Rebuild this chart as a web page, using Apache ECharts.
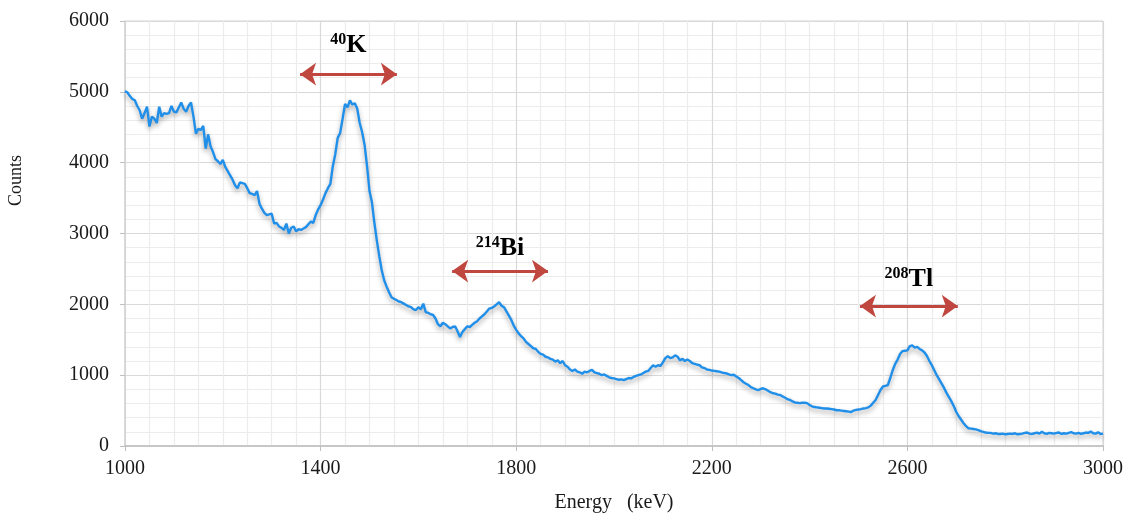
<!DOCTYPE html>
<html>
<head>
<meta charset="utf-8">
<script src="https://cdn.jsdelivr.net/npm/echarts@6/dist/echarts.min.js"></script>
<style>html,body{margin:0;padding:0;background:#fff}#c{width:1131px;height:514px}</style>
</head>
<body>
<div id="c"></div>
<script>
// Energy sampling of the spectrum (keV)
const energyStart = 1000;
const energyStep = 5;
// Counts, 5 keV apart, 1000 .. 3000 keV
const counts = [
  5010,4990,4940,4900,4880,4800,4740,4620,4700,4790,4510,4650,4620,4560,4790,4650,4700,4690,4700,4800,
  4720,4710,4780,4850,4760,4720,4800,4850,4650,4410,4480,4460,4520,4200,4400,4230,4150,4050,4020,3980,
  4040,3940,3880,3820,3760,3680,3640,3720,3710,3700,3640,3570,3560,3540,3600,3420,3350,3290,3260,3270,
  3280,3140,3150,3100,3080,3050,3140,3000,3080,3100,3030,3060,3050,3070,3090,3130,3170,3150,3260,3340,
  3400,3480,3570,3640,3700,3950,4120,4350,4420,4620,4830,4780,4880,4820,4840,4760,4560,4430,4250,3950,
  3600,3440,3150,2900,2680,2480,2340,2250,2170,2100,2080,2060,2040,2030,2010,1990,1970,1960,1930,1920,
  1960,1930,2010,1890,1880,1860,1850,1800,1720,1690,1740,1720,1690,1660,1680,1690,1620,1540,1610,1650,
  1690,1680,1710,1740,1760,1800,1830,1860,1900,1940,1950,1970,2000,2030,1980,1960,1900,1840,1780,1700,
  1640,1590,1550,1520,1470,1440,1410,1380,1370,1330,1300,1290,1260,1250,1230,1220,1190,1210,1170,1200,
  1140,1120,1080,1060,1080,1050,1040,1020,1050,1040,1060,1075,1040,1030,1020,1000,1010,990,970,960,
  955,945,935,940,930,945,960,955,975,990,1000,1010,1030,1050,1060,1100,1140,1120,1140,1130,
  1180,1240,1270,1240,1250,1280,1260,1210,1230,1200,1220,1200,1170,1160,1150,1140,1110,1100,1080,1075,
  1065,1060,1055,1050,1040,1030,1025,1010,1000,1005,980,960,930,900,880,860,830,815,800,790,
  805,815,800,780,760,745,740,725,720,700,680,660,650,630,615,610,605,610,610,605,
  580,560,550,545,540,535,530,530,525,520,515,505,505,500,495,490,485,480,500,510,
  515,520,530,535,545,570,610,650,720,790,840,850,860,960,1070,1160,1220,1300,1340,1345,
  1350,1410,1420,1390,1400,1370,1350,1320,1270,1200,1140,1070,1000,940,880,820,750,690,630,560,
  480,420,370,320,280,250,245,240,235,225,210,200,190,185,185,175,180,170,170,175,
  165,170,175,170,180,165,170,175,185,190,175,170,180,190,175,200,180,170,185,180,
  175,185,190,170,180,175,185,195,180,175,185,170,180,190,185,205,180,175,195,170,
  175
];
// Annotations: isotope label, arrow start/end energy, arrow height (counts)
const isoMass = ['40', '214', '208'];
const isoName = ['K', 'Bi', 'Tl'];
const arrowFrom = [1358, 1669, 2503];
const arrowTo = [1556, 1865, 2703];
const arrowY = [5250, 2470, 1975];
// Axis ticks
const xTicks = [1000, 1400, 1800, 2200, 2600, 3000];
const yTicks = [0, 1000, 2000, 3000, 4000, 5000, 6000];

const seriesData = counts.map((c, i) => [energyStart + i * energyStep, c]);
const font = '"Liberation Serif", "DejaVu Serif", serif';
const labelGap = [15, 9, 13];

const markData = isoName.map((n, i) => [
  { coord: [arrowFrom[i], arrowY[i]], name: n,
    label: { distance: labelGap[i], formatter: '{s|' + isoMass[i] + '}{b|' + n + '}' } },
  { coord: [arrowTo[i], arrowY[i]] }
]);

const chart = echarts.init(document.getElementById('c'), null, { renderer: 'canvas' });
chart.setOption({
  animation: false,
  backgroundColor: '#ffffff',
  grid: { left: 125, right: 28, top: 21, bottom: 68, show: true, borderColor: '#d4d4d4', borderWidth: 1,
          containLabel: false, outerBoundsMode: 'none' },
  xAxis: {
    type: 'value', min: xTicks[0], max: xTicks[xTicks.length - 1], interval: 400,
    name: 'Energy   (keV)', nameLocation: 'middle', nameGap: 47,
    nameTextStyle: { fontFamily: font, fontSize: 20, color: '#1a1a1a' },
    axisLine: { show: true, lineStyle: { color: '#bfbfbf', width: 1.5 } },
    axisTick: { show: true, length: 5, lineStyle: { color: '#bfbfbf' } },
    axisLabel: { fontFamily: font, fontSize: 20, color: '#1a1a1a', margin: 13, formatter: v => String(v) },
    splitLine: { show: true, lineStyle: { color: '#d9d9d9', width: 1.2 } },
    minorTick: { show: false, splitNumber: 8 },
    minorSplitLine: { show: true, lineStyle: { color: '#ececec', width: 1.2 } }
  },
  yAxis: {
    type: 'value', min: yTicks[0], max: yTicks[yTicks.length - 1], interval: 1000,
    name: 'Counts', nameLocation: 'middle', nameGap: 100, nameRotate: 90,
    nameTextStyle: { fontFamily: font, fontSize: 18, color: '#1a1a1a', padding: [0, 0, 0, 106] },
    axisLine: { show: true, lineStyle: { color: '#d4d4d4', width: 1.5 } },
    axisTick: { show: true, length: 5, lineStyle: { color: '#bfbfbf' } },
    axisLabel: { fontFamily: font, fontSize: 20, color: '#1a1a1a', margin: 16, formatter: v => String(v) },
    splitLine: { show: true, lineStyle: { color: '#d9d9d9', width: 1.2 } },
    minorTick: { show: false, splitNumber: 5 },
    minorSplitLine: { show: true, lineStyle: { color: '#ececec', width: 1.2 } }
  },
  series: [{
    type: 'line',
    data: seriesData,
    showSymbol: false,
    symbol: 'none',
    lineStyle: { color: '#1f8fea', width: 2.4, shadowColor: 'rgba(0,0,0,0.35)', shadowBlur: 5, shadowOffsetY: 3 },
    markLine: {
      silent: true,
      symbol: ['arrow', 'arrow'],
      symbolSize: [17, 16],
      lineStyle: { color: '#c0473f', width: 3, type: 'solid' },
      label: {
        show: true, position: 'middle',
        rich: {
          s: { fontFamily: font, fontWeight: 'bold', fontSize: 16, color: '#000', padding: [0, 0, 11, 0] },
          b: { fontFamily: font, fontWeight: 'bold', fontSize: 26, color: '#000' }
        }
      },
      data: markData
    }
  }]
});
</script>
</body>
</html>
